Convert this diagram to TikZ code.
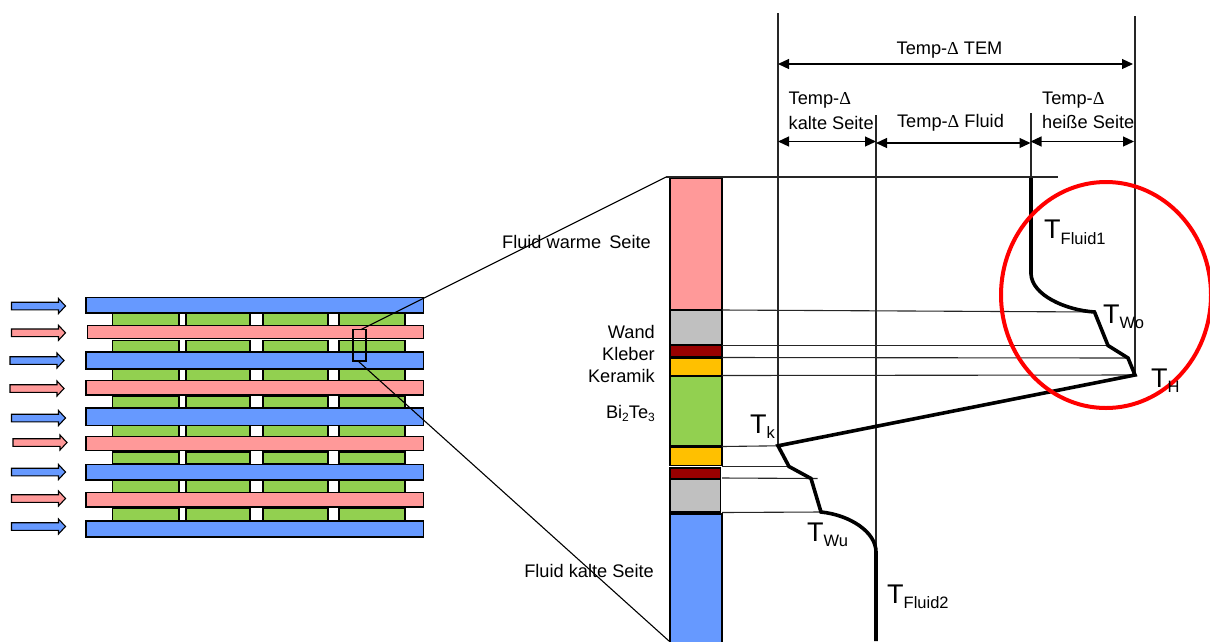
\documentclass[tikz,border=0pt]{standalone}
\usepackage{fontspec}
\setmainfont{Liberation Sans}
\newfontfamily\deltafont{Liberation Serif}
\usetikzlibrary{arrows.meta}
\definecolor{cblue}{HTML}{6699FF}
\definecolor{cpink}{HTML}{FF9999}
\definecolor{cgreen}{HTML}{92D050}
\definecolor{cgrey}{HTML}{C0C0C0}
\definecolor{cdark}{HTML}{990000}
\definecolor{corange}{HTML}{FFC000}
\newcommand{\dlt}{{\deltafont Δ}}
\newcommand{\Tlab}[1]{{\fontsize{27}{27}\selectfont T}\raisebox{-5.5pt}{\fontsize{16.5}{16.5}\selectfont #1}}
\newcommand{\plate}[5]{\path[block,fill=#1] (#2,#4) rectangle (#3,#5);}
\newcommand{\greens}[2]{%
  \path[block,fill=cgreen] (112.7,#1) rectangle (179,#2);
  \path[block,fill=cgreen] (186,#1) rectangle (250,#2);
  \path[block,fill=cgreen] (263,#1) rectangle (328,#2);
  \path[block,fill=cgreen] (339,#1) rectangle (405,#2);}
% colour, x start, y centre
\newcommand{\flow}[3]{\path[block,fill=#1]
  (#2,#3-3.8) -- (#2+47,#3-3.8) -- (#2+47,#3-7.5) -- (#2+54,#3) -- (#2+47,#3+7.5)
  -- (#2+47,#3+3.8) -- (#2,#3+3.8) -- cycle;}
\tikzset{
  x=1pt,y=-1pt,
  block/.style={draw=black,line width=1.1pt},
  thin line/.style={draw=black!85,line width=1.1pt},
  thick curve/.style={draw=black,line width=3.6pt,line join=miter},
  dim/.style={draw=black,line width=1.2pt,{Triangle[length=11pt,width=10pt]}-{Triangle[length=11pt,width=10pt]}},
  txt/.style={inner sep=0pt,font=\fontsize{18.2}{20}\selectfont},
  tlabel/.style={inner sep=0pt,anchor=base west},
}
\begin{document}
\begin{tikzpicture}
\useasboundingbox (0,0) rectangle (1210,641);
% --- stack at left
\greens{313}{325.7}
\greens{340.5}{352}
\greens{369}{380.5}
\greens{396.5}{408}
\greens{425.5}{436.5}
\greens{452}{464}
\greens{480}{492.5}
\greens{508}{521}
\plate{cblue}{86}{423.5}{297.5}{313}
\plate{cpink}{87.5}{423.5}{325.7}{338.5}
\plate{cblue}{86}{423.5}{352}{369}
\plate{cpink}{86}{423.5}{380.5}{395}
\plate{cblue}{86}{423.5}{408}{425.5}
\plate{cpink}{86}{423.5}{436.5}{450.5}
\plate{cblue}{86}{423.5}{464.5}{480}
\plate{cpink}{86}{423.5}{492.5}{507}
\plate{cblue}{86}{423.5}{521}{537}
\flow{cblue}{11.5}{306}
\flow{cpink}{11.5}{332.8}
\flow{cblue}{10}{360.5}
\flow{cpink}{10}{388.5}
\flow{cblue}{11.5}{418}
\flow{cpink}{13}{442.5}
\flow{cblue}{11.5}{472}
\flow{cpink}{11.5}{498.5}
\flow{cblue}{11.5}{526.5}
% --- layer column
\plate{cpink}{670}{722}{178}{309.5}
\plate{cgrey}{670}{722}{310.5}{344.5}
\plate{cdark}{670}{722}{345.5}{357}
\plate{corange}{670}{722}{358.5}{376}
\plate{cgreen}{670}{722}{376.5}{446}
\plate{corange}{670}{722}{447}{465.7}
\plate{cdark}{670}{720.5}{468}{478.2}
\plate{cgrey}{670}{720.5}{479.3}{512}
\plate{cblue}{670}{722}{514}{645}
% --- zoom window
\coordinate (winTR) at (361,329.5);
\coordinate (winBL) at (358,361);
\coordinate (topZ) at (666,177);
\coordinate (botZ) at (669,641);
\node[draw=black,line width=1.1pt,fill=none,minimum width=13pt,minimum height=31.5pt,inner sep=0pt] (win) at (359.5,345.2) {};
\draw[black,line width=1.1pt] (winTR) -- (topZ);
\draw[black,line width=1.1pt] (winBL) -- (botZ);
% --- reference lines
\coordinate (topL) at (666,177);
\coordinate (topR) at (1058,177);
\coordinate (a0) at (778,13);   \coordinate (a1) at (778,446);
\coordinate (b0) at (876,115);  \coordinate (b1) at (876,552);
\coordinate (c0) at (1031,113); \coordinate (c1) at (1031,178);
\coordinate (d0) at (1135,16);  \coordinate (d1) at (1135,375);
\draw[thin line] (topL) -- (topR);
\draw[thin line] (a0) -- (a1);
\draw[thin line] (b0) -- (b1);
\draw[thin line] (c0) -- (c1);
\draw[thin line] (d0) -- (d1);
% --- curve points
\coordinate (p0) at (1031,178);
\coordinate (p1) at (1031,274);
\coordinate (p2) at (1094.5,312);
\coordinate (p3) at (1108,345.5);
\coordinate (p4) at (1128,358);
\coordinate (p5) at (1135,375);
\coordinate (p6) at (778,445.8);
\coordinate (p7) at (789,466.5);
\coordinate (p8) at (811,478.5);
\coordinate (p9) at (821,512);
\coordinate (p10) at (876,552);
\coordinate (p11) at (876,641);
% --- layer boundary lines
\coordinate (l1) at (722,310);   \coordinate (l2) at (722,345.5);
\coordinate (l3) at (722,357.5); \coordinate (l4) at (722,375.5);
\coordinate (l5) at (722,446.5); \coordinate (l6) at (722,466.5);
\coordinate (l7) at (722,478);   \coordinate (l8) at (722,512.5);
\coordinate (e7) at (817.5,478.5);
\draw[thin line] (l1) -- (p2);
\draw[thin line] (l2) -- (p3);
\draw[thin line] (l3) -- (p4);
\draw[thin line] (l4) -- (p5);
\draw[thin line] (l5) -- (p6);
\draw[thin line] (l6) -- (p7);
\draw[thin line] (l7) -- (e7);
\draw[thin line] (l8) -- (p9);
% --- temperature profile
\draw[thick curve] (p0) -- (p1) .. controls (1032,295) and (1065,310) .. (p2) -- (p3) -- (p4) -- (p5) -- (p6) -- (p7) -- (p8) -- (p9) .. controls (850,515) and (876,532) .. (p10) -- (p11);
% --- circle
\draw[red,line width=4pt] (1106,295) ellipse [x radius=105,y radius=113];
% --- dimension arrows
\coordinate (t1) at (778,64);  \coordinate (t2) at (1133,64);
\coordinate (k1) at (778,141.5); \coordinate (k2) at (876,141.5);
\coordinate (f1) at (876,143); \coordinate (f2) at (1030.5,143);
\coordinate (h1) at (1030.5,141.5); \coordinate (h2) at (1134,141.5);
\draw[dim] (t1) -- (t2);
\draw[dim] (k1) -- (k2);
\draw[dim] (f1) -- (f2);
\draw[dim] (h1) -- (h2);
% --- texts
\node[txt] (tTEM) at (949.5,50) {Temp-\dlt\ TEM};
\node[txt,anchor=west] (tK1) at (788.5,100) {Temp-\dlt};
\node[txt,anchor=west] (tK2) at (788.5,122.5) {kalte Seite};
\node[txt] (tF) at (950.5,122.5) {Temp-\dlt\ Fluid};
\node[txt,anchor=west] (tH1) at (1042,100) {Temp-\dlt};
\node[txt,anchor=west] (tH2) at (1042,121.5) {heiße Seite};
\node[txt,anchor=east] (lFw) at (651,242) {Fluid warme\hspace{3pt} Seite};
\node[txt,anchor=east] (lW) at (655,331.5) {Wand};
\node[txt,anchor=east] (lK) at (655,354) {Kleber};
\node[txt,anchor=east] (lKe) at (655,376) {Keramik};
\node[txt,anchor=east] (lB) at (655,413) {Bi\raisebox{-3pt}{\fontsize{12}{12}\selectfont 2}Te\raisebox{-3pt}{\fontsize{12}{12}\selectfont 3}};
\node[txt,anchor=east] (lFk) at (654,571) {Fluid kalte Seite};
\node[tlabel] (TF1) at (1044,238.5) {\Tlab{Fluid1}};
\node[tlabel] (TWo) at (1103,323) {\Tlab{Wo}};
\node[tlabel] (TH) at (1151,387) {\Tlab{H}};
\node[tlabel] (Tk) at (750,433) {\Tlab{k}};
\node[tlabel] (TWu) at (807,541) {\Tlab{Wu}};
\node[tlabel] (TF2) at (887,603) {\Tlab{Fluid2}};
\end{tikzpicture}
\end{document}
